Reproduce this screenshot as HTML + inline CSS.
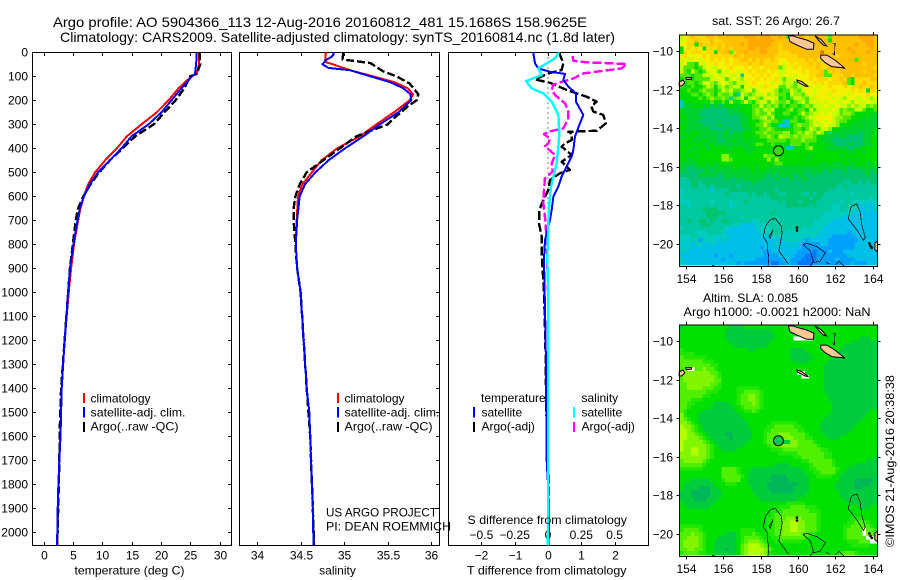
<!DOCTYPE html>
<html lang="en">
<head>
<meta charset="utf-8">
<title>Argo profile 5904366_113</title>
<style>
html,body{margin:0;padding:0;background:#fff;}
svg{display:block;font-family:"Liberation Sans",sans-serif;fill:#000;}
text{font-size:12px;}
.title{font-size:14px;}
</style>
</head>
<body>
<svg id="chart" xmlns="http://www.w3.org/2000/svg" width="900" height="580" viewBox="0 0 900 580">
<rect x="0" y="0" width="900" height="580" fill="#fff"/>
<text class="title" x="53" y="27" textLength="534" lengthAdjust="spacingAndGlyphs">Argo profile: AO 5904366_113 12-Aug-2016 20160812_481 15.1686S 158.9625E</text>
<text class="title" x="60" y="42" textLength="555" lengthAdjust="spacingAndGlyphs">Climatology: CARS2009. Satellite-adjusted climatology: synTS_20160814.nc (1.8d later)</text>
<g id="marks"></g>
<g shape-rendering="crispEdges">
<rect x="83" y="393" width="2" height="10" fill="#f00"/>
<rect x="83" y="407" width="2" height="10.5" fill="#00f"/>
<rect x="83" y="422" width="2" height="10" fill="#000"/>
<text x="90.5" y="402.5">climatology</text>
<text x="90.5" y="416.5" textLength="95" lengthAdjust="spacingAndGlyphs">satellite-adj. clim.</text>
<text x="90.5" y="430.5" textLength="88" lengthAdjust="spacingAndGlyphs">Argo(..raw -QC)</text>
</g>
<g shape-rendering="crispEdges">
<rect x="337" y="393" width="2" height="10" fill="#f00"/>
<rect x="337" y="407" width="2" height="10.5" fill="#00f"/>
<rect x="337" y="422" width="2" height="10" fill="#000"/>
<text x="344.5" y="402.5">climatology</text>
<text x="344.5" y="416.5" textLength="95" lengthAdjust="spacingAndGlyphs">satellite-adj. clim.</text>
<text x="344.5" y="430.5" textLength="88" lengthAdjust="spacingAndGlyphs">Argo(..raw -QC)</text>
</g>
<g shape-rendering="crispEdges">
<text x="481" y="402">temperature</text>
<text x="581.5" y="402">salinity</text>
<rect x="473" y="407" width="2" height="10.5" fill="#00f"/>
<rect x="473" y="422" width="2" height="10" fill="#000"/>
<rect x="573" y="407" width="2" height="10.5" fill="#0ff"/>
<rect x="573" y="422" width="2" height="10" fill="#f0f"/>
<text x="481.5" y="416.5">satellite</text>
<text x="481.5" y="430.5">Argo(-adj)</text>
<text x="581.5" y="416.5">satellite</text>
<text x="581.5" y="430.5">Argo(-adj)</text>
</g>
<text x="326" y="516.5" textLength="111" lengthAdjust="spacingAndGlyphs">US ARGO PROJECT</text>
<text x="326" y="530.5" textLength="125" lengthAdjust="spacingAndGlyphs">PI: DEAN ROEMMICH</text>
<text x="129.5" y="574.5" text-anchor="middle" textLength="110" lengthAdjust="spacingAndGlyphs">temperature (deg C)</text>
<text x="337.5" y="574.5" text-anchor="middle">salinity</text>
<text x="467.5" y="524" textLength="159.5" lengthAdjust="spacingAndGlyphs">S difference from climatology</text>
<text x="467" y="574.5" textLength="159.5" lengthAdjust="spacingAndGlyphs">T difference from climatology</text>
<text x="776" y="25" text-anchor="middle" textLength="128" lengthAdjust="spacingAndGlyphs">sat. SST: 26  Argo: 26.7</text>
<text x="703" y="302" textLength="95" lengthAdjust="spacingAndGlyphs">Altim. SLA: 0.085</text>
<text x="683.5" y="316" textLength="187" lengthAdjust="spacingAndGlyphs">Argo h1000: -0.0021 h2000: NaN</text>
<text transform="translate(894,547) rotate(-90)" x="0" y="0" textLength="172" lengthAdjust="spacingAndGlyphs">©IMOS 21-Aug-2016 20:38:38</text>
</svg>
<script>
// ---- depth axis ----
const depthTicks=[0,100,200,300,400,500,600,700,800,900,1000,1100,1200,1300,1400,1500,1600,1700,1800,1900,2000];
// ---- temperature panel ----
const tempTicks=[0,5,10,15,20,25,30];
const sharedDepths=[0,50,90,100,150,200,250,300,350,400,450,500,550,600,650,700,800,900,1000,1200,1400,1500,1600,1700,1800,1900,2000,2054];
const tempClim=[26.5,26.5,26.1,25.2,23.0,21.3,19.3,16.7,14.2,12.5,10.5,8.8,7.6,6.9,6.3,5.9,5.2,4.7,4.3,3.6,3.1,3.0,2.85,2.7,2.55,2.45,2.4,2.35];
const tempSat=[26.1,26.0,25.8,25.3,23.5,21.8,20.1,17.9,15.0,13.3,11.3,9.3,7.9,6.9,6.2,5.8,5.1,4.5,4.2,3.6,3.1,3.0,2.9,2.7,2.53,2.42,2.35,2.3];
const tempArgo=[26.6,26.7,26.1,25.0,24.0,22.5,20.6,18.8,15.6,13.5,11.3,9.5,8.0,6.8,5.9,5.5,5.0,4.5,4.2,3.6,3.0,2.85,2.75,2.7,2.6,2.5,2.4,2.3];
// ---- salinity panel ----
const salTicks=[34,34.5,35,35.5,36];
const salClimDepths=[0,40,50,75,100,125,150,175,200,250,300,350,400,450,500,550,600,700,800,900,1000,1400,1500,1600,1700,1800,1900,2000,2054];
const salClim=[34.79,34.78,34.87,35.07,35.33,35.58,35.73,35.79,35.75,35.57,35.37,35.18,34.92,34.74,34.63,34.52,34.47,34.455,34.445,34.46,34.5,34.57,34.6,34.61,34.62,34.63,34.64,34.65,34.655];
const salSatDepths=[0,10,20,30,50,65,75,100,125,150,175,200,250,300,350,400,450,500,550,600,700,800,900,1000,1400,1500,1600,1700,1800,1900,2000,2054];
const salSat=[34.87,34.88,34.85,34.8,34.75,34.82,35.07,35.3,35.53,35.68,35.76,35.77,35.62,35.41,35.22,35.01,34.82,34.67,34.55,34.49,34.46,34.445,34.46,34.5,34.57,34.6,34.61,34.62,34.63,34.64,34.645,34.65];
const salArgoDepths=[0,30,40,45,80,100,130,175,200,225,275,300,350,400,450,500,550,600,650,700,800,900,1000,1400,1600,1800,2000,2054];
const salArgo=[34.99,34.98,35.2,35.3,35.45,35.6,35.75,35.85,35.83,35.73,35.57,35.5,35.14,34.95,34.76,34.57,34.49,34.44,34.42,34.42,34.44,34.46,34.5,34.57,34.61,34.63,34.65,34.65];
// ---- difference panel ----
const tDiffTicks=[-2,-1,0,1,2];
const sDiffTicks=[-0.5,-0.25,0,0.25,0.5];
const sDiffLabels=['−0.5','−0.25','0','0.25','0.5'];
const tSatDepths=[0,4,46,67,81,90,115,143,171,206,261,296,351,407,435,490,518,560,602,657,699,782,859,1000,1200,1366,1500,1700,1800,1900,2000,2054];
const tSat=[-0.44,-0.44,-0.39,-0.29,0.06,0.51,0.46,0.61,0.84,0.84,1.06,0.96,0.81,0.76,0.71,0.51,0.41,0.31,0.16,0.11,0.06,-0.09,-0.12,-0.10,-0.07,-0.06,-0.05,-0.04,0,0.03,0.03,0.01];
const tArgoDepths=[0,11,46,74,88,113,127,157,171,185,195,206,225,247,261,296,327,331,340,366,379,393,428,456,490,504,532,574,615,657,713,768,838,1000,1200,1400,1500,1700,1800,2000,2054];
const tArgo=[0.34,0.36,0.46,0.41,0.01,-0.39,0.06,0.56,0.86,1.16,1.3,1.46,1.3,1.36,1.66,1.74,1.46,0.61,0.72,0.71,0.51,0.41,0.71,0.41,0.66,0.36,0.06,0.01,-0.14,-0.26,-0.27,-0.19,-0.19,-0.12,-0.08,-0.06,-0.05,0,0.03,0,0];
const sSatDepths=[0,4,25,46,67,95,120,150,171,206,261,337,393,463,518,560,630,699,859,1000,1400,1700,2000,2054];
const sSat=[0.08,0.078,0.053,-0.01,-0.073,-0.048,-0.165,-0.123,-0.035,0.028,0.078,0.085,0.078,0.065,0.04,0.023,0.01,0.003,-0.005,0.002,0.002,0.003,0,-0.002];
const sArgoDepths=[15,35,42,46,49,67,77,88,109,134,157,178,213,247,275,317,331,341,359,380,391,428,463,497,525,574,630,685,782,1000,1400,2000,2054];
const sArgo=[0.185,0.19,0.29,0.49,0.59,0.553,0.415,0.265,0.19,0.04,0.028,0.053,0.128,0.153,0.153,0.115,0.003,-0.03,0.015,0.003,-0.023,0.053,0.028,0.035,-0.023,-0.03,-0.035,-0.023,-0.01,0,0,0,0];
// ---- maps (one letter per cell, north row first) ----
const lonTicks=[154,156,158,160,162,164];
const latTicks=[-10,-12,-14,-16,-18,-20];
const sstColors={x:'#e07000',a:'#ffa800',b:'#ffc000',c:'#ffd800',d:'#f4f000',e:'#c8ff00',f:'#90f400',g:'#50e800',h:'#00dc00',i:'#00d030',j:'#00c470',k:'#00c8a0',l:'#00ccc0',m:'#00c0e8',n:'#00a0ff',o:'#0078ff'};
const slaColors={w:'#ffffff',p:'#00b85a',q:'#00cc3c',r:'#00e100',s:'#20e800',t:'#50f000',u:'#82f600',v:'#b4ff00'};
const sstRows=[
"edcbcccbbcbbbbbbbaaabaaabbabgbbabcbbbbbgbbbbbbbaaaab",
"edccbcccbccbbbbbbbaaaaaaabbbbgbbbbbbbbbhbbbbbbbbaaab",
"ddcchbccbcbcbbbbabaaaaaabbcbbbbbbbcbbbbbbbbbbbabbaab",
"hdcdcdhcccbcbcbbbbaabaabbbcbbbbbbbbbbbbbbbbbabbbbbab",
"hcdcccdcchcbbgcbbabbbaabbbcccbbbbbbbbxbbbbbbbabbbabb",
"dcddddcdccccccbbcbbbbbbbbccccccbbbbbbbbbbcbbbbbbbbbb",
"edeededdcdcdcdccbbcbcbccbcddcccccbcbcbbbbbbbbbgbbbbb",
"edgghdeddcddcdccccbccbccccdedcdcccbcbccbcbbbbbbbcbbb",
"eggghgedeedddcdddcdccdccccgeddcdccccbccbbbbbbbbbbbbc",
"egheghgedegdeddeddcdcccdcdeeddddcdcccbgcbcbbbbbbcbbb",
"ggghggeeedeedeedkddcdcdcddedddedddccbbggcccbbcbbbbbc",
"hgghggggeedegedefdddcdcddcegeeddddcdcccdccbcghccccbb",
"hhgghgeefgedefgeeedcddddedefeegeeddcdcdccccbghccbccc",
"ghhghhgefhfegfeehdeddecdddggefgeedededdcdddcdccbccbc",
"hhghhgfgghgefeggfedgedddefhggefgeddeddddcddddcdcdicc",
"hhhgghgfghfggfhkefgfeedfefggheffgededddeddddeddddcdd",
"hhhhhghgfggfgkgfehedfgedeehghgeefgeeddddedefddeedefe",
"lhhhhhhhghhghfhhgeghfeegefggfhgfegedededdeedefdeedee",
"liihhhihjhjihhhihhhggegfgfhghgghgfgeeedeedeefefeegfg",
"hiiiiijjjjjjjiiihhhgfgefehhhgfhgghegeeeedegfggeeghhg",
"hiiiijjjjjjjjijiihhgfggeghhgghhgegfeededeegffghhhhih",
"hhiiiijjjjjjjjjjiihggfegehhhhhghgfeeddddeffgghhhihii",
"ihiiijjjjjjjjjjjiihhhgffgghlmgghhgfeededefgghhhiiiii",
"hhiiiijjjjijjjjjiihhggeghhlmlhgfggfeeedeefhhhiihiiii",
"hiiiiiiijjjjijjjjiihhggfghhhhhgghgefgeefhhiiiiiiiiii",
"hhihhiiiiijiijiiihhhggfggggffhgfgefgefhkiiiiiiijiiih",
"iihhiiiiiijiiiiiihhhhggfgheffgfgfffghhiiijiijjjjiiih",
"hhhiiihiiijjiihiihiihhhggggghgggfggghiiijjjjjjjjiihh",
"hihhhhiihiiiiiiiiihhgghhghhhhggghghhhhhiijjjiijjiiih",
"hhhiihhihhhhiihhhiiihhhhhhhhmmhhhgfhhhiiiiiijjiihhhh",
"hhihhhhhhhhhhhhhhhihhhhhhhhhhhhhhhhhhhhhhhhhiihhihhh",
"hihhihhhhhhffhhhhhhhhhfgghhhhhhhhhihhhhhhhihhhhhhhhh",
"hhiihhhhhhhffghhhhhhhhhfhfhhhhhhhihhhhhhhhhhihihhhhh",
"iiiiihhihihhhhhhhhhhhhhhhgghhhhhhhhhhiihiiihhihhhiih",
"iijjiiiiiiiiiihhiihhihhiiiiiiiiiiiiiiiiiiiiijiiiiiii",
"ijjjjjiijiiiiiiiiiihihiiiiiiiiiiijiiiijijjjijjjjiiji",
"jjjjjiiiiijjiiiiiiiiiiijijiiiijiijjijjjjjjjjjjjjjijj",
"kkjjjjjjjjjjijjijiiiiijjjijjjijjiijjjjjjjjjjjjjjjjjj",
"kkkjjkjjjjjjjjjjjjjijjjjjjjjjjjjjjjjjjjjjjjkkjjkjkjj",
"kkkjjkkjkjjjjjjkjjjjjjjjjjjjjjjjjjjjjjjjjkkjkkkkkkkk",
"lkkkkkkkmkkkkjjjjjjjjjjjjkjjjjjjjjjjjjjkkkkkkkkkkkkk",
"lkkkkkkkkkkkjkkkkkjkjjkjjjkkjjjjkkjkjjkkkkkkklkkkkkk",
"lkkkkkkkkkkkkkkkkkkkkkkkjjjjjjjjjjkjjkkkkkkkkkkkkklk",
"lllkkkkklkkkklkkkjkkkkkkkkjkjjjkjjjjkkkkkklkklllllll",
"kklkkkkkkkkkkllkkkkkkkkkkkkkjjjjjjkjkkkkllkkkkkmlmml",
"kkkkkkjjjjkkkkkkkkkkkkkkkkkkkkkkkkkkkkkkllkklllmmlml",
"kkkkkkkjjjjjkkkkkkkkkkkkjkkkkkkkkkkkkkllllllllmmmmmm",
"kkkkkkkjjjkkkkkklkkkkkkkkkkkkkkkkkkkkllllllmmmmlmmmm",
"kkjkkjjkjkkjjkkkkkkllkkkkkkkkkkkkkklllllmmmmmmmmmmmm",
"kkkkkkjjkkkkkkllmmmmlllkkkkkkkkkkkkllllmmmmmmmmmmmmm",
"lkkkkkkkkkkklmmmmmmmllllkkkkkkkkllllllmmmmmmmmmmmmmm",
"kkkklllkkkklmmmmmmmmmlllkkkllllllllllmmmmmmmnmmmmmmm",
"lllkkllllllllmmmmmmmmmmmllllllllllllmmmmnnnnnnmmmmmm",
"lllllnllllmlmmmmmmmmmmmmmmmlllllmnmmmmmnnnnnnnnmmmmm",
"lmlmllmmlmmmmmmmmmmmmmmmmlmmmlmmnnnnnmmnnnnnnnmmmmmm",
"lllmmmmmmmmmmmmmmmmmmnmmmmmmmmmmnnnnnnnnnnnnnnmmmmmm",
"llmmmmmmmmmmmmmmmmmmmmnnmmmmmmmnnnnonnnmnnnmmmmmmmmm",
"mmmmmmmmmnmmmnmmmmmmmmnnnnmmmmnnnooonnnnnnnnmmmmmmmm",
"lmmmmmmmmmmnmmmmmmmmnnnnnnnmmnnnoooonnnnnmnnnnmmmmmm",
"lmmmmmmmmmmmmmmnmnnnnnnnoonnmnnoooonnnnnnnnnnmnnnmmm"
];
const slaRows=[
"qrrrrrrrrrrrrqqqqrrrrrrrrrrrrrrrrrrrrrrrrrrrrrrrrrrr",
"rrrrrrrrrrrrqqqqqqqqqqqqrrrrrrrrrrrrrrrrrrrrrrrrrrrr",
"rrrrrrrrrrrrqqqqqqqqqqqqqrrrrrrrrrrrrrrrrrrrrrrrrrrr",
"rrrrrrrrrrrrqqqqqqqqqqqqqrrrrrwwwwwrrrrrrrrrrrrqqqrr",
"rrrrrrrrrrrrrqqqqqqqqqqqrrrrrrrrrrrrrrrrrrrrrqqqqqqq",
"rrrrrrrrrrrrrrqqqqqqqqqrrrrrrrrrrrrrrrrrrrrqqqqqqqqq",
"srrrrrrrrrrrrrrrrrqqrrrrrrrrrqqqqrrrrrrrrrqqqqqqqqqq",
"ssssrrrrrrrrrrrrrrrrrrrrrrrrrqqqqqrrrrrrrqqqqqqqqqqq",
"tssssssrrrrrrrrrrrrrrrrrrrrrrqqqqqqrrrrrqqqqqqqqqqqq",
"ttttttsssrrrrrrrrrrrrrrrrrrrrrqqqqrrrrrqqqqqqqqqqqqq",
"ttttttttssrrrrrrrrrrrrrrrrrrrrrrrrrrrrqqqqqqqqqqqqqq",
"ttwwttuttsrrrrrrrrrrrrrrrrrrrrrrrrrrrrqqqqqqqqqqqqqq",
"tuuuuuuuttsrrrrrrrrrrrrrrrrrrrrwwrrrrrqqqqqqqqqqqqqq",
"tuuuuuuuutsrrrrrrrrrrrrrrrrrrrrrwwrrrrqqqqqqqqqqqqqq",
"tuuuuuuuuttrrrrrrrrrrrrrrrrrrrrrrrrrrrqqqqqqqqqqqqqq",
"ttuuuuuuttsrrrrrrrrrrrrrrrrrrrrrrrrrrrqqqqqqqqqqqqqq",
"ttuuuutttssrrrrssssssrrrrrrrrrrrrrrrrrqqqqqqqqqqqqqq",
"tttttttsssrrrrrssttttsrrrrrrrrrrrrrrrrqqqqqqqqqqqqqq",
"ttttttssrrrrrrrsttuutsrrrrrrrrrrrrrrrrrqqqqqqqqqqqqq",
"tttsssrrrrrrrrrsttuutsrrrrrrrrrrrrrrrrrqqqqqqqqqqqqq",
"ttssrrrrrqqqqrrstttutsrrrrrrrrrrrrrrrrrrqqqqqqqqqqqq",
"ttsrrrrrqqqqqqrrsttttsrrrrrrrrrrrrrrrrrrqqqqqqqqqqqq",
"tsrrrrqqqqqqqqqrrsstsrrrrrrrrrrrrrrrrrrrqqqqqqqqqqrr",
"usrrrqqqqqqqqqqqrrrrrrrrrrrrrrrrrrrrrrrqqqqqqqqqqrrr",
"utsrrqqqqqqqqqqqqrrrrrrrrrrrrrrrrrrrrrqqqqqqqqqqrrrr",
"uutsrqqqqqqqqqqqqqrrrrrrsssssssrrrrrrqqqqqqqqqqrrrrr",
"vuutsrqqqqqqqqqqqqrrrrrsstttttssrrrrrqqqqqqqqqrrrrrr",
"vvutsrqqqqqqqqqqqqqrrrsstttttttssrrrrqqqqqqqqrrrrrrr",
"vvuutsrqqqqqppqqqqqrrrstttuuuttttsrrrrqqqqqqrrrrrrrr",
"vvuuutsrqqqqqpqqqqqrrrstttuuuutttssrrrrqqqrrrrrrrrrr",
"vuuuuutsrqqqqqqqqqrrrrsttuuqquuttttsrrrrrrrrrrrrrrrr",
"vuuuuuutsrqqqqqqqrrrrrrsttuuuuutttttsrrrrrrrrrrrrrrr",
"vuuvvuutsrrqqqqrrrrrrrrrsssttttttttttssrrrrrrrrrrrrr",
"uuuvvuutsrrrrrrrrrrrrrrrrrssssstttttttssrrrrrrrrrrrr",
"uuuuuuutsrrrrrrrrrrrrrrrrrrrrrssttttttssrrrrrrrrrrrq",
"tuuuuutsrrrrrrrrrrrrrrrrrrrrrrrrssttttttsrrrrrrrrqqq",
"ttttttsrrrrrrrrrrrrrrrrrrqqqqrrrrrstttttsrrrrrqqqqqq",
"ssssssrrrrrttttsrrrqqqqqqqqqqqqqrrsstttttsrrqqqqqqqq",
"rrrrrrrrrrrttttsrrqqqqqqqqqqqqqqqrrssttttrrqqqqqqqqq",
"rrrrrrrrrrrtttttsrqqqqqqppppqqqqqqrrssssrrqqqqqqqqqq",
"rrrqqqqqrrrsttttrrqqqqqqpppppqqqqqrrrrrrrrqqqqpppppq",
"rqqqqqqqqrrrsssrrrqqqqqppppppppqqqrrrrrrrqqqqqppppqq",
"rqqqqpppqqrrrrrrrrrqqqqpppppppqqqqrrrrrrrqqqqqppqqqq",
"qqqpppppqqqrrrrrrrrqqqqqppppppqqqqrrrrrrrrqqqqqqqqqq",
"qqqpppppqqqrrrrrrrrrqqqqqqqqqqqqqrrrrrrrrrqqqqqqqqqq",
"qqqqpppqqqrrrrrrrrrrrqqqqqqqqqqrrrrrrrrrrrrqqqqqqqqq",
"rqqqqqqqqrrrrrrrrrrrrrrrrrrrsssssrrrrrrrrrrrrqqqqqqq",
"rrqqqqqqrrrrrrrrrrrrrrrrrrsssttttsssrrrrrrrrrrrqqqrr",
"rrrrrrrrrrrrrrrrrrrrrrrrssstttttttsssrrrrrrrrrrrrrrr",
"rrrrrrrrrrrrrrrrrrrrrrrrstttttttttttsrrrrrrrrrrrrrrr",
"rrrrrrrrrrrrrrrrrrrrrrrsstttuuuuttttsrrrrrrrrsssrrrr",
"rrrrrrrrrrrrrrrrrrrrrrrssttuuvvuutttsrrrrrrrsstttsrr",
"ssssssrrrrrrrrrrrrrrrrrssttuuvvuutttsrrrrrrsstttttsr",
"sttttsrrrrrrrrrrssssrrrssttuuvvuutttsrrrrrrsttttwtts",
"tttuttsrrrrrqqqrssstsrrssttuuuuuttssrrrrrrrsttttwuts",
"ttuuutsrrrqqqqqrsttttsrrsstttttttsrrrrrrrrrstttttwwt",
"tuuuutsrrqqqqqqrstuuutsrrsssssssrrrrrrrrrrrrssstttww",
"tuuuutsrrqqqqqqrtuvvvutsrrrrrrrrrrrrrrrrrrrrrsssssrr",
"ttuuttsrrqqqpqqrtuvvvvutsrrrrrrrrrrrrrrrrrrrrrrrrrrr",
"sttttssrrqqqqqqrtuvvvvusrrrrrrrrrrrrrrrrrsstttsrrrrr"
];
// ---- coastlines and reefs as lon/lat pairs ----
const landPolygons=[
[[159.49,-9.22],[159.58,-9.52],[159.94,-9.69],[160.47,-9.91],[160.83,-9.91],[160.86,-9.6],[160.47,-9.43],[159.94,-9.29],[159.76,-9.22]],
[[161.22,-10.21],[161.54,-10.21],[161.99,-10.47],[162.52,-10.9],[162.34,-10.86],[161.81,-10.81],[161.45,-10.6],[161.22,-10.38]],
[[160.92,-9.22],[161.27,-9.43],[161.54,-9.74],[161.36,-9.69],[161.09,-9.43]],
[[159.94,-11.5],[160.2,-11.58],[160.56,-11.85],[160.4,-11.82],[160.0,-11.62]],
[[153.65,-11.6],[153.85,-11.5],[153.95,-11.65],[153.78,-11.82],[153.65,-11.8]],
[[154.0,-11.38],[154.32,-11.38],[154.3,-11.47],[154.02,-11.47]],
[[164.12,-19.95],[164.25,-19.85],[164.25,-20.4],[164.12,-20.3]]
];
const reefLines=[
[[161.86,-9.6],[161.99,-9.6],[161.95,-10.21],[161.86,-10.12]],
[[158.4,-21.17],[158.45,-20.7],[158.36,-20.27],[158.36,-19.93],[158.15,-19.62],[158.27,-19.07],[158.54,-18.72],[158.8,-18.69],[159.1,-19.07],[159.16,-19.42],[159.07,-19.93],[158.98,-20.36],[159.25,-20.71],[159.5,-21.05]],
[[158.45,-19.62],[158.67,-19.27],[158.52,-19.7],[158.45,-19.62]],
[[162.88,-18.02],[163.15,-17.93],[163.33,-18.36],[163.42,-19.05],[163.6,-19.65],[163.51,-19.82],[163.12,-19.22],[162.69,-18.7],[162.81,-18.19],[162.88,-18.02]],
[[160.27,-20.02],[160.49,-19.97],[161.02,-20.14],[161.47,-20.45],[161.2,-20.88],[160.85,-20.97],[160.67,-20.36],[160.4,-20.14],[160.27,-20.02]],
[[160.67,-21.15],[160.8,-20.9]],
[[161.5,-20.95],[161.7,-21.05]],
[[162.0,-21.1],[162.2,-20.88],[162.45,-21.15]],
[[155.4,-21.1],[155.55,-21.15]]
];
const blobPoints=[[159.95,-19.15],[159.95,-19.3],[163.82,-19.97],[163.88,-20.1],[163.95,-20.2]];
const floatLon=158.9625;
const floatLat=-15.1686;
const sstFloatColor='#30e000';
const slaFloatColor='#00cc48';

const NS='http://www.w3.org/2000/svg';
const root=document.getElementById('marks');
const pTop=52.5,pBot=545.5;
const panels=[[32.5,231.5],[239.5,439.5],[448.5,648.5]];
const yD=d=>52.3+d*0.24;
const xT=t=>43.5+t*5.87;
const xS=s=>257+(s-34)*87.2;
const xDT=t=>548+t*33.3;
const xDS=s=>548+s*133.2;
const mapL=679.5,mapR=877.5,mapW=198,mapH=230;
const xLon=l=>685.7+(l-154)*18.7;
const yLat=(lat,off)=>off+51+(-10-lat)*19.3;
function mk(tag,attrs,parent){
  const e=document.createElementNS(NS,tag);
  for(const k in attrs)e.setAttribute(k,attrs[k]);
  (parent||root).appendChild(e);
  return e;
}
function label(x,y,txt,anchor){
  const e=mk('text',{x:x,y:y,'text-anchor':anchor});
  e.textContent=txt;
  return e;
}
function seriesPath(zs,vs,xf,color,width,dash){
  let d='';
  for(let i=0;i<zs.length&&i<vs.length;i++){
    d+=(i?'L':'M')+xf(vs[i]).toFixed(2)+' '+yD(zs[i]).toFixed(2);
  }
  const a={d:d,fill:'none',stroke:color,'stroke-width':width,'stroke-linejoin':'round','shape-rendering':'crispEdges'};
  if(dash)a['stroke-dasharray']=dash;
  return mk('path',a);
}
function tick(x1,y1,x2,y2){
  return mk('line',{x1:x1,y1:y1,x2:x2,y2:y2,stroke:'#000','stroke-width':1,'shape-rendering':'crispEdges'});
}
// profile panels: frames
panels.forEach(function(p){
  const f=mk('rect',{x:p[0],y:pTop,width:p[1]-p[0],height:pBot-pTop,fill:'#fff',stroke:'#000','stroke-width':1,'shape-rendering':'crispEdges'});
  
  
});
// depth ticks
depthTicks.forEach(function(d){
  const y=Math.round(yD(d))+0.5;
  const t1=tick(32.5,y,36,y);
  
  
  const t2=tick(228,y,231.5,y);
  
  
  const t3=tick(436,y,439.5,y);
  
  
  const l=label(28,y+4,String(d),'end');
  
  
});
// x ticks
function xTicks(vals,labels,xf){
  vals.forEach(function(v,i){
    const x=Math.round(xf(v))+0.5;
    const a=tick(x,pTop,x,pTop+3.5);
    
    
    const b=tick(x,pBot-3.5,x,pBot);
    
    
    const l=label(x,559.5,labels[i],'middle');
    
    
  });
}
xTicks(tempTicks,tempTicks.map(String),xT);
xTicks(salTicks,salTicks.map(String),xS);
xTicks(tDiffTicks,tDiffTicks.map(v=>String(v).replace('-','−')),xDT);
sDiffTicks.forEach(function(v,i){
  const l=label(xDS(v),539,sDiffLabels[i],'middle');
  
  
});
// temperature series
let s;
s=seriesPath(sharedDepths,tempClim,xT,'#f00',2);


s=seriesPath(sharedDepths,tempArgo,xT,'#000',2.4,'8 3');


s=seriesPath(sharedDepths,tempSat,xT,'#00f',2);


// salinity series
s=seriesPath(salClimDepths,salClim,xS,'#f00',2);


s=seriesPath(salArgoDepths,salArgo,xS,'#000',2.4,'8 3');


s=seriesPath(salSatDepths,salSat,xS,'#00f',2);


// difference series
const zero=mk('line',{x1:xDT(0),y1:pTop,x2:xDT(0),y2:pBot,stroke:'#000','stroke-width':1,'stroke-dasharray':'1 4','shape-rendering':'crispEdges'});


s=seriesPath(tArgoDepths,tArgo,xDT,'#000',2.4,'9 3');


s=seriesPath(sArgoDepths,sArgo,xDS,'#f0f',2.4,'9 3');


s=seriesPath(tSatDepths,tSat,xDT,'#00f',2);


s=seriesPath(sSatDepths,sSat,xDS,'#0ff',2.4);


// maps
function drawMap(rows,palette,off,floatColor,prefix){
  const cols=52;
  const cw=mapW/cols,ch=mapH/rows.length;
  const g=mk('g',{'shape-rendering':'crispEdges'});
  
  
  rows.forEach(function(row,r){
    for(let c=0;c<cols;c++){
      const k=row[Math.min(c,row.length-1)];
      const cell=mk('rect',{x:(mapL+c*cw).toFixed(2),y:(off+35+r*ch).toFixed(2),width:(cw+0.4).toFixed(2),height:(ch+0.4).toFixed(2),fill:palette[k]},g);
      
      
    }
  });
  const pt=p=>xLon(p[0]).toFixed(1)+','+yLat(p[1],off).toFixed(1);
  landPolygons.forEach(function(poly){
    const e=mk('polygon',{points:poly.map(pt).join(' '),fill:'#ffc896',stroke:'#000','stroke-width':1});
    
    
  });
  reefLines.forEach(function(line){
    const e=mk('polyline',{points:line.map(pt).join(' '),fill:'none',stroke:'#000','stroke-width':0.7,'shape-rendering':'crispEdges'});
    
    
  });
  blobPoints.forEach(function(p){
    const e=mk('circle',{cx:xLon(p[0]),cy:yLat(p[1],off),r:1.3,fill:'#000'});
    
    
  });
  const cir=mk('circle',{cx:xLon(floatLon),cy:yLat(floatLat,off),r:5,fill:floatColor,stroke:'#000','stroke-width':1});
  
  
  const fr=mk('rect',{x:mapL,y:off+35,width:mapW,height:mapH+1.5,fill:'none',stroke:'#000','stroke-width':1,'shape-rendering':'crispEdges'});
  
  
  const botY=off+35+mapH+1.5;
  lonTicks.forEach(function(v){
    const x=Math.round(xLon(v))+0.5;
    const t1=tick(x,off+32,x,off+35);
    
    
    const t2=tick(x,botY,x,botY+3);
    
    
    const l=label(x,botY+16.5,String(v),'middle');
    
    
  });
  latTicks.forEach(function(v){
    const y=Math.round(yLat(v,off))+0.5;
    const t1=tick(mapL-3,y,mapL,y);
    
    
    const t2=tick(mapR,y,mapR+3,y);
    
    
    const l=label(673,y+4,String(v).replace('-','−'),'end');
    
    
  });
}
drawMap(sstRows,sstColors,0,sstFloatColor,'sst');
drawMap(slaRows,slaColors,290,slaFloatColor,'sla');
</script>
</body>
</html>
